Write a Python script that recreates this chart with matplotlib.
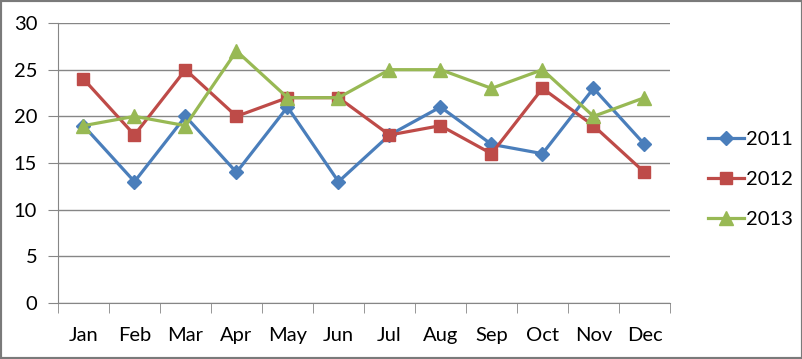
import matplotlib.pyplot as plt
from matplotlib.patches import Rectangle

months = ["Jan", "Feb", "Mar", "Apr", "May", "Jun", "Jul", "Aug", "Sep", "Oct", "Nov", "Dec"]
y2011 = [19, 13, 20, 14, 21, 13, 18, 21, 17, 16, 23, 17]
y2012 = [24, 18, 25, 20, 22, 22, 18, 19, 16, 23, 19, 14]
y2013 = [19, 20, 19, 27, 22, 22, 25, 25, 23, 25, 20, 22]

plt.rcParams['font.family'] = ['Lato', 'DejaVu Sans']

fig = plt.figure(figsize=(8.03, 3.59), dpi=100)
ax = fig.add_axes([58 / 803, 56 / 359, 612 / 803, 280 / 359])

x = list(range(len(months)))
ax.plot(x, y2011, color="#4A7EBB", lw=2.3, marker="D", ms=7, label="2011", zorder=3)
ax.plot(x, y2012, color="#BE4B48", lw=2.3, marker="s", ms=8.5, label="2012", zorder=3)
ax.plot(x, y2013, color="#98B954", lw=2.3, marker="^", ms=10, label="2013", zorder=3)

ax.set_xlim(-0.5, 11.5)
ax.set_ylim(0, 30)
ax.set_yticks(range(0, 31, 5))
ax.set_xticks(x)
ax.set_xticklabels(months)
ax.set_xticks([i - 0.5 for i in range(13)], minor=True)
ax.tick_params(axis="x", which="major", length=0, pad=17, labelsize=14.5)
ax.tick_params(axis="x", which="minor", length=7, color="#868686")
ax.tick_params(axis="y", length=7, color="#868686", pad=8, labelsize=14.5)
ax.yaxis.grid(True, color="#868686", lw=1)
ax.set_axisbelow(True)
for s in ["top", "right"]:
    ax.spines[s].set_visible(False)
for s in ["left", "bottom"]:
    ax.spines[s].set_color("#868686")

fig.legend(loc="center left", bbox_to_anchor=(690 / 803, 0.5), frameon=False,
           fontsize=14.5, handlelength=1.8, labelspacing=1.15, handletextpad=0.1)

fig.patches.append(Rectangle((0, 0), 1, 1, transform=fig.transFigure, fill=False,
                             edgecolor="#7a7a7a", lw=3))

fig.savefig("out.png", dpi=100)
